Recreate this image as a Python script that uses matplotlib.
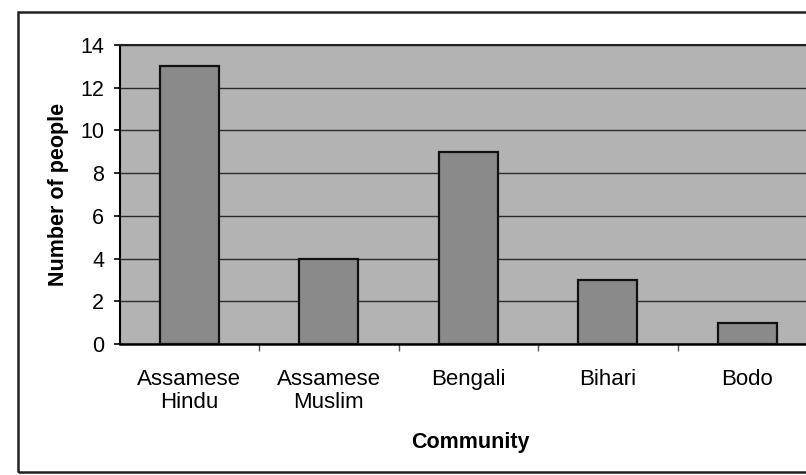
import matplotlib
matplotlib.use("Agg")
from matplotlib import pyplot as plt
from matplotlib.patches import Rectangle

communities = ["Assamese\nHindu", "Assamese\nMuslim", "Bengali", "Bihari", "Bodo"]
people = [13, 4, 9, 3, 1]
yticks = [0, 2, 4, 6, 8, 10, 12, 14]

plt.rcParams["font.family"] = ["Liberation Sans", "DejaVu Sans"]

fig = plt.figure(figsize=(8.06, 4.75), dpi=100)
fig.patch.set_facecolor("white")

# outer chart frame (runs off the right edge like the scan)
frame = Rectangle((18 / 806, 3 / 475), 1.2, 460 / 475, transform=fig.transFigure,
                  fill=False, edgecolor="#222222", linewidth=1.8)
fig.patches.append(frame)

ax = fig.add_axes([119.5 / 806, 131 / 475, 697.5 / 806, 299 / 475])
ax.set_facecolor("#b3b3b3")

x = list(range(len(communities)))
ax.bar(x, people, width=0.42, color="#8a8a8a", edgecolor="#111111", linewidth=1.6, zorder=3)

ax.set_xlim(-0.5, len(communities) - 0.5)
ax.set_ylim(0, 14)
ax.set_yticks(yticks)
ax.set_yticklabels([str(v) for v in yticks], fontsize=15.5)
ax.set_xticks(x)
ax.set_xticklabels(communities, fontsize=16, linespacing=1.1)
ax.tick_params(axis="x", length=0, pad=18)
ax.set_xticks([i + 0.5 for i in x[:-1]], minor=True)
ax.tick_params(axis="x", which="minor", length=5, width=1, direction="out", color="#555555")
ax.tick_params(axis="y", length=4, width=1.2, direction="out", pad=7)

ax.yaxis.grid(True, color="#2a2a2a", linewidth=1.0, zorder=1)
ax.set_axisbelow(True)

ax.spines["right"].set_visible(False)
ax.spines["top"].set_color("#222222")
ax.spines["top"].set_linewidth(1.5)
ax.spines["left"].set_linewidth(1.5)
ax.spines["bottom"].set_linewidth(1.8)

ax.set_ylabel("Number of people", fontsize=15.5, fontweight="bold")
ax.yaxis.set_label_coords(-0.073, 0.5)
ax.set_xlabel("Community", fontsize=15.5, fontweight="bold")
ax.xaxis.set_label_coords(0.5025, -0.295)

fig.savefig("out.png", dpi=100)
